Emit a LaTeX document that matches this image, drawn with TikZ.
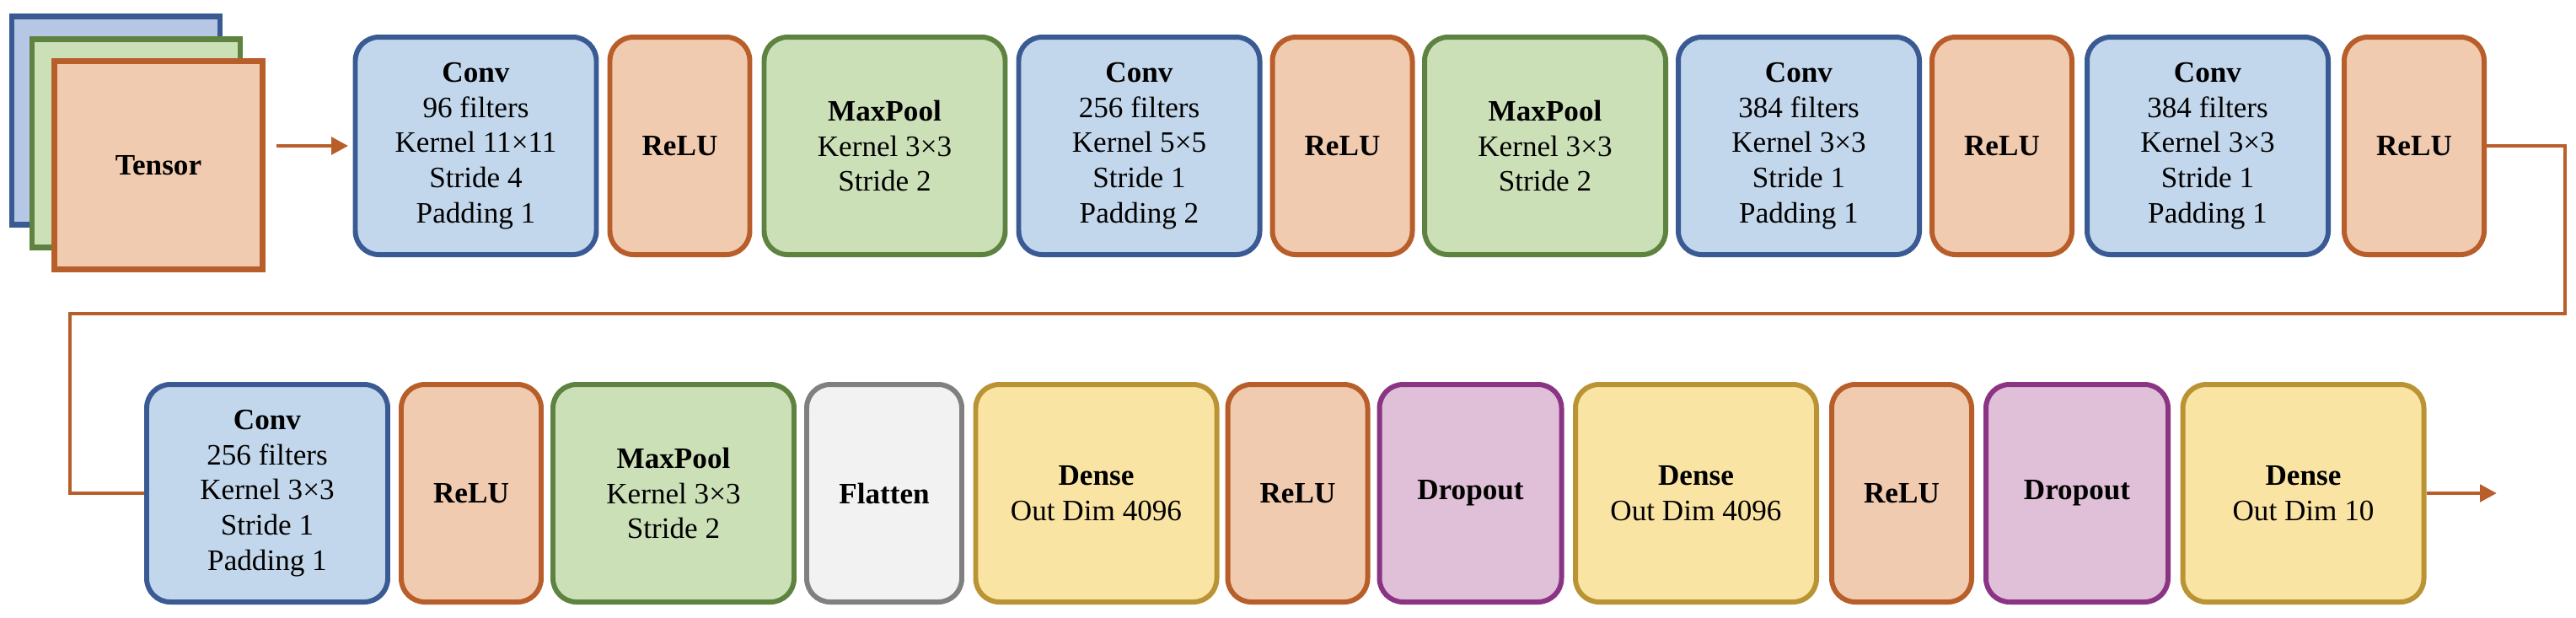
\documentclass[tikz,border=0pt]{standalone}
\usepackage{fontspec}
\setmainfont{Liberation Serif}
\usetikzlibrary{arrows.meta}

\definecolor{convfill}{HTML}{C3D7EC}
\definecolor{convline}{HTML}{3A5A94}
\definecolor{relufill}{HTML}{F1CBB0}
\definecolor{reluline}{HTML}{B85E2A}
\definecolor{poolfill}{HTML}{CCE0B8}
\definecolor{poolline}{HTML}{5E8240}
\definecolor{flatfill}{HTML}{F2F2F2}
\definecolor{flatline}{HTML}{808080}
\definecolor{densefill}{HTML}{FAE4A3}
\definecolor{denseline}{HTML}{BA9334}
\definecolor{dropfill}{HTML}{E0C0D8}
\definecolor{dropline}{HTML}{8B3483}
\definecolor{backfill}{HTML}{B6C7E5}

\tikzset{
  layer/.style={draw,rounded corners=0.28cm,line width=1.7pt,align=center,
    minimum height=2.58cm,inner sep=0pt,font=\fontsize{10}{11.9}\selectfont},
  conv/.style={layer,fill=convfill,draw=convline,minimum width=2.86cm},
  relu/.style={layer,fill=relufill,draw=reluline,minimum width=1.66cm},
  pool/.style={layer,fill=poolfill,draw=poolline,minimum width=2.86cm},
  flat/.style={layer,fill=flatfill,draw=flatline,minimum width=1.84cm},
  dense/.style={layer,fill=densefill,draw=denseline,minimum width=2.86cm},
  drop/.style={layer,fill=dropfill,draw=dropline,minimum width=2.16cm},
  sheet/.style={draw,line width=1.9pt,minimum width=2.47cm,minimum height=2.47cm,
    inner sep=0pt,font=\fontsize{10}{11.9}\selectfont},
  link/.style={draw=reluline,line width=1.4pt},
  flow/.style={link,-{Triangle[length=0.2cm,width=0.2cm]}}
}

\begin{document}
\begin{tikzpicture}
  % Canvas
  \useasboundingbox (0,0) rectangle (30.56,-7.32);
  \def\rowa{-1.73}
  \def\rowb{-5.85}
  %
  % Input tensor
  \node[sheet,fill=backfill,draw=convline] (sheetb) at (1.375,-1.43) {};
  \node[sheet,fill=poolfill,draw=poolline] (sheetg) at (1.615,-1.70) {};
  \node[sheet,fill=relufill,draw=reluline] (tensor) at (1.88,-1.96) {\textbf{Tensor}};
  %
  % First row
  \node[conv] (conv1) at (5.645,\rowa) {\textbf{Conv}\\96 filters\\Kernel 11×11\\Stride 4\\Padding 1};
  \node[relu] (relu1) at (8.065,\rowa) {\textbf{ReLU}};
  \node[pool] (pool1) at (10.495,\rowa) {\textbf{MaxPool}\\Kernel 3×3\\Stride 2};
  \node[conv] (conv2) at (13.515,\rowa) {\textbf{Conv}\\256 filters\\Kernel 5×5\\Stride 1\\Padding 2};
  \node[relu] (relu2) at (15.925,\rowa) {\textbf{ReLU}};
  \node[pool] (pool2) at (18.33,\rowa) {\textbf{MaxPool}\\Kernel 3×3\\Stride 2};
  \node[conv] (conv3) at (21.34,\rowa) {\textbf{Conv}\\384 filters\\Kernel 3×3\\Stride 1\\Padding 1};
  \node[relu] (relu3) at (23.75,\rowa) {\textbf{ReLU}};
  \node[conv] (conv4) at (26.19,\rowa) {\textbf{Conv}\\384 filters\\Kernel 3×3\\Stride 1\\Padding 1};
  \node[relu] (relu4) at (28.64,\rowa) {\textbf{ReLU}};
  %
  % Second row
  \node[conv] (conv5) at (3.17,\rowb) {\textbf{Conv}\\256 filters\\Kernel 3×3\\Stride 1\\Padding 1};
  \node[relu] (relu5) at (5.59,\rowb) {\textbf{ReLU}};
  \node[pool] (pool3) at (7.99,\rowb) {\textbf{MaxPool}\\Kernel 3×3\\Stride 2};
  \node[flat] (flat1) at (10.49,\rowb) {\textbf{Flatten}};
  \node[dense] (dense1) at (13.005,\rowb) {\textbf{Dense}\\Out Dim 4096};
  \node[relu] (relu6) at (15.395,\rowb) {\textbf{ReLU}};
  \node[drop] (drop1) at (17.445,\rowb) {\textbf{Dropout}};
  \node[dense] (dense2) at (20.12,\rowb) {\textbf{Dense}\\Out Dim 4096};
  \node[relu] (relu7) at (22.56,\rowb) {\textbf{ReLU}};
  \node[drop] (drop2) at (24.64,\rowb) {\textbf{Dropout}};
  \node[dense] (dense3) at (27.325,\rowb) {\textbf{Dense}\\Out Dim 10};
  %
  % Connectors
  \coordinate (inlet) at (3.28,\rowa);
  \coordinate (turnR) at (30.43,-3.72);
  \coordinate (turnL) at (0.83,-3.72);
  \coordinate (outlet) at (29.62,\rowb);
  \draw[flow,shorten >=1.5pt] (inlet) -- (conv1.west);
  \draw[link] (relu4.east) -| (turnR) -- (turnL) |- (conv5.west);
  \draw[flow] (dense3.east) -- (outlet);
  %
\end{tikzpicture}
\end{document}
